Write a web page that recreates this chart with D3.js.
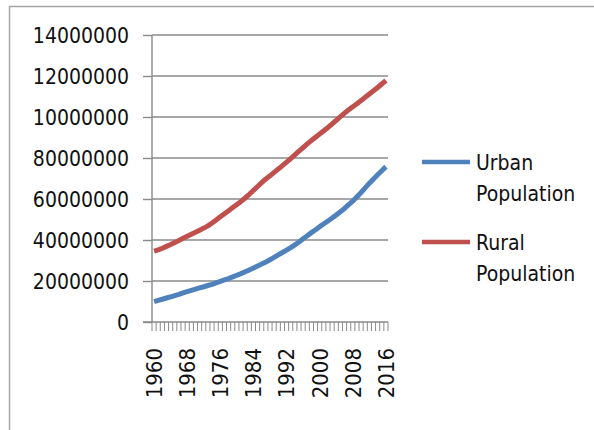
<!DOCTYPE html>
<html>
<head>
<meta charset="utf-8">
<script src="https://cdn.jsdelivr.net/npm/d3@7"></script>
<style>
  body { margin: 0; background: #fff; }
  text { font-family: "DejaVu Sans Condensed", "DejaVu Sans", sans-serif; font-stretch: condensed; fill: #111; }
</style>
</head>
<body>
<div id="chart"></div>
<script>
// years on the category axis
var years = d3.range(1960, 2017);
var yearLabels = [1960, 1968, 1976, 1984, 1992, 2000, 2008, 2016];

// values in millions
var urban = [9.9, 10.5, 11.1, 11.7, 12.3, 12.9, 13.5, 14.2, 14.8, 15.4,
  16.0, 16.6, 17.2, 17.8, 18.4, 19.1, 19.8, 20.5, 21.2, 22.0,
  22.8, 23.6, 24.5, 25.4, 26.3, 27.3, 28.3, 29.3, 30.4, 31.5,
  32.7, 33.9, 35.1, 36.3, 37.6, 39.0, 40.6, 42.1, 43.6, 45.0,
  46.5, 47.9, 49.3, 50.7, 52.2, 53.8, 55.4, 57.2, 59.0, 61.1,
  63.2, 65.4, 67.7, 69.8, 71.8, 73.8, 75.8];
var rural = [34.6, 35.2, 36.0, 36.9, 37.8, 38.8, 39.8, 40.8, 41.8, 42.8,
  43.8, 44.8, 45.8, 46.9, 48.3, 49.8, 51.3, 52.8, 54.3, 55.8,
  57.3, 58.8, 60.5, 62.3, 64.2, 66.1, 68.0, 69.8, 71.3, 73.0,
  74.6, 76.3, 78.0, 79.7, 81.5, 83.3, 85.1, 86.9, 88.5, 90.1,
  91.7, 93.3, 94.9, 96.6, 98.4, 100.2, 101.9, 103.5, 105.0, 106.5,
  108.0, 109.6, 111.2, 112.8, 114.4, 116.1, 117.8];

// y ticks (labels as they show in the chart, clipped)
var yTicks = [0, 20, 40, 60, 80, 100, 120, 140];
var yTickLabels = ["0", "20000000", "40000000", "60000000", "80000000",
  "10000000", "12000000", "14000000"];

var seriesNames = ["Urban", "Rural"];
var colors = ["#4f81bd", "#c0504d"];

var W = 594, H = 430;
var svg = d3.select("#chart").append("svg")
  .attr("width", W).attr("height", H);

// outer chart border
svg.append("rect")
  .attr("x", 9.5).attr("y", 6.5)
  .attr("width", 700).attr("height", 500)
  .attr("fill", "none").attr("stroke", "#a6a6a6").attr("stroke-width", 1.5);

var plotLeft = 152, plotRight = 388, plotTop = 35, plotBottom = 322;

var x = d3.scaleBand().domain(years).range([plotLeft, plotRight]);
var y = d3.scaleLinear().domain([0, 140]).range([plotBottom, plotTop]);

// gridlines
svg.append("g").selectAll("line")
  .data(yTicks.slice(1))
  .enter().append("line")
  .attr("x1", plotLeft).attr("x2", plotRight)
  .attr("y1", function(d) { return y(d); })
  .attr("y2", function(d) { return y(d); })
  .attr("stroke", "#8a8a8a").attr("stroke-width", 1.4);

// y axis
var yAxis = svg.append("g")
  .attr("transform", "translate(" + plotLeft + ",0)")
  .call(d3.axisLeft(y).tickValues(yTicks)
    .tickFormat(function(d, i) { return yTickLabels[i]; })
    .tickSize(9).tickPadding(14));
yAxis.selectAll("line, path").attr("stroke", "#8a8a8a").attr("stroke-width", 1.4);
yAxis.select(".domain").attr("d", "M0," + plotBottom + "V" + plotTop);
yAxis.selectAll("text")
  .style("font-family", null)
  .style("font-size", "21px").attr("fill", "#111").attr("dy", "0.36em");

// x axis line and category tick marks
svg.append("line")
  .attr("x1", plotLeft - 9).attr("x2", plotRight)
  .attr("y1", plotBottom).attr("y2", plotBottom)
  .attr("stroke", "#8a8a8a").attr("stroke-width", 1.4);
var bounds = years.map(function(d) { return x(d); }).concat([plotRight]);
svg.append("g").selectAll("line")
  .data(bounds)
  .enter().append("line")
  .attr("x1", function(d) { return d; }).attr("x2", function(d) { return d; })
  .attr("y1", plotBottom).attr("y2", plotBottom + 9)
  .attr("stroke", "#8a8a8a").attr("stroke-width", 1);

// x labels, rotated
svg.append("g").selectAll("text")
  .data(yearLabels)
  .enter().append("text")
  .attr("transform", function(d) {
    return "translate(" + (x(d) + x.bandwidth() / 2) + ",348) rotate(-90)";
  })
  .attr("text-anchor", "end")
  .attr("dy", "0.36em")
  .style("font-size", "22px")
  .text(function(d) { return d; });

// lines
var line = d3.line()
  .x(function(d, i) { return x(years[i]) + x.bandwidth() / 2; })
  .y(function(d) { return y(d); });

[urban, rural].forEach(function(s, k) {
  svg.append("path")
    .datum(s)
    .attr("d", line)
    .attr("fill", "none")
    .attr("stroke", colors[k])
    .attr("stroke-width", 5)
    .attr("stroke-linejoin", "round");
});

// legend
var legY = [162, 242];
var leg = svg.append("g").selectAll("g")
  .data(seriesNames)
  .enter().append("g")
  .attr("transform", function(d, i) { return "translate(422," + legY[i] + ")"; });
leg.append("line")
  .attr("x1", 0).attr("x2", 48)
  .attr("stroke", function(d, i) { return colors[i]; })
  .attr("stroke-width", 4.5);
leg.append("text")
  .attr("x", 54).attr("y", 8)
  .style("font-size", "21px")
  .text(function(d) { return d; });
leg.append("text")
  .attr("x", 54).attr("y", 39)
  .style("font-size", "21px")
  .text("Population");
</script>
</body>
</html>
